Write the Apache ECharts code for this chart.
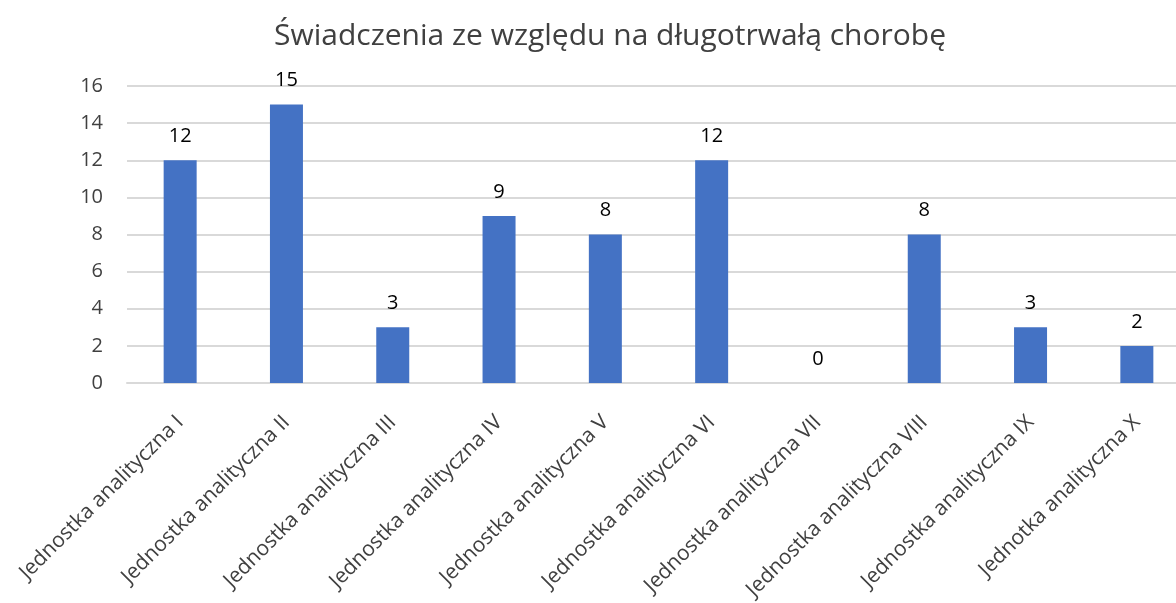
<!DOCTYPE html>
<html>
<head>
<meta charset="utf-8">
<script src="https://cdn.jsdelivr.net/npm/echarts@6/dist/echarts.min.js"></script>
<style>
  html, body { margin: 0; padding: 0; background: #fff; }
  #chart { width: 1176px; height: 603px; }
</style>
</head>
<body>
<div id="chart"></div>
<script>
let categories = ['Jednostka analityczna I', 'Jednostka analityczna II', 'Jednostka analityczna III',
  'Jednostka analityczna IV', 'Jednostka analityczna V', 'Jednostka analityczna VI',
  'Jednostka analityczna VII', 'Jednostka analityczna VIII', 'Jednostka analityczna IX',
  'Jednotka analityczna X'];
let values = [12, 15, 3, 9, 8, 12, 0, 8, 3, 2];
let yTicks = [0, 16, 2]; // min, max, step

let font = '"Open Sans", "Noto Sans", sans-serif';

let myChart = echarts.init(document.getElementById('chart'));
let option = {
  title: {
    text: 'Świadczenia ze względu na długotrwałą chorobę',
    left: 605,
    textAlign: 'center',
    top: 16,
    textStyle: { fontFamily: font, fontSize: 30, fontWeight: 'normal', color: '#404040' }
  },
  grid: { left: 127, right: -14, top: 86, bottom: 220, outerBoundsMode: 'none' },
  xAxis: {
    type: 'category',
    data: categories,
    axisTick: { show: false },
    axisLine: { lineStyle: { color: '#d9d9d9', width: 2 } },
    axisLabel: {
      interval: 0,
      rotate: 45,
      margin: 36,
      fontFamily: font,
      fontSize: 21,
      color: '#404040'
    }
  },
  yAxis: {
    type: 'value',
    min: yTicks[0],
    max: yTicks[1],
    interval: yTicks[2],
    axisLine: { show: false },
    axisTick: { show: false },
    axisLabel: { fontFamily: font, fontSize: 20, color: '#404040', margin: 24 },
    splitLine: { lineStyle: { color: '#d9d9d9', width: 2 } }
  },
  series: [{
    type: 'bar',
    data: values,
    barWidth: 33,
    itemStyle: { color: '#4472c4' },
    label: {
      show: true,
      position: 'top',
      distance: 14,
      fontFamily: font,
      fontSize: 20,
      color: '#000'
    }
  }]
};
myChart.setOption(option);
</script>
</body>
</html>
